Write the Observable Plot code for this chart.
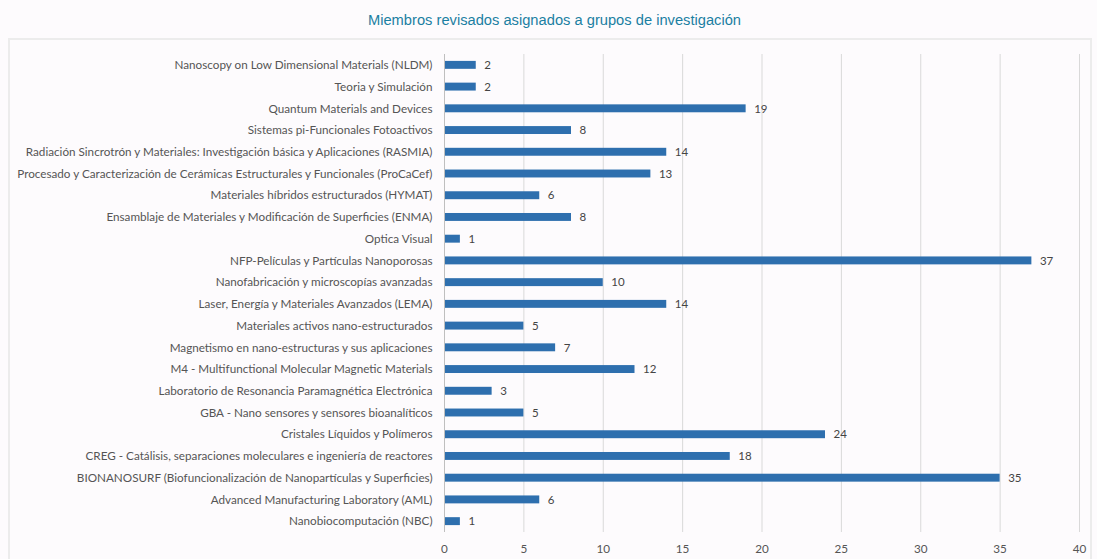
<!DOCTYPE html>
<html>
<head>
<meta charset="utf-8">
<script src="https://cdn.jsdelivr.net/npm/d3@7"></script>
<script src="https://cdn.jsdelivr.net/npm/@observablehq/plot@0.6"></script>
<style>
  html, body { margin: 0; padding: 0; background: #fdfbfd; width: 1097px; height: 559px; overflow: hidden; }
  #title { position: absolute; left: 6px; top: 0; width: 1097px; height: 38px; text-align: center; line-height: 40px;
    font-family: "Liberation Sans", Arial, sans-serif; font-size: 14.7px; color: #1b7fa2; }
  #frame { position: absolute; left: 8px; top: 38px; width: 1084px; height: 540px; border: 2px solid #ececec; box-sizing: border-box; }
  #chart { position: absolute; left: 0; top: 38px; }
</style>
</head>
<body>
<div id="title">Miembros revisados asignados a grupos de investigación</div>
<div id="frame"></div>
<div id="chart"></div>
<script>
const groups = [
  "Nanoscopy on Low Dimensional Materials (NLDM)",
  "Teoria y Simulación",
  "Quantum Materials and Devices",
  "Sistemas pi-Funcionales Fotoactivos",
  "Radiación Sincrotrón y Materiales: Investigación básica y Aplicaciones (RASMIA)",
  "Procesado y Caracterización de Cerámicas Estructurales y Funcionales (ProCaCef)",
  "Materiales híbridos estructurados (HYMAT)",
  "Ensamblaje de Materiales y Modificación de Superficies (ENMA)",
  "Optica Visual",
  "NFP-Películas y Partículas Nanoporosas",
  "Nanofabricación y microscopías avanzadas",
  "Laser, Energía y Materiales Avanzados (LEMA)",
  "Materiales activos nano-estructurados",
  "Magnetismo en nano-estructuras y sus aplicaciones",
  "M4 - Multifunctional Molecular Magnetic Materials",
  "Laboratorio de Resonancia Paramagnética Electrónica",
  "GBA - Nano sensores y sensores bioanalíticos",
  "Cristales Líquidos y Polímeros",
  "CREG - Catálisis, separaciones moleculares e ingeniería de reactores",
  "BIONANOSURF (Biofuncionalización de Nanopartículas y Superficies)",
  "Advanced Manufacturing Laboratory (AML)",
  "Nanobiocomputación (NBC)"
];
const members = [2, 2, 19, 8, 14, 13, 6, 8, 1, 37, 10, 14, 5, 7, 12, 3, 5, 24, 18, 35, 6, 1];
const xTicks = [0, 5, 10, 15, 20, 25, 30, 35, 40];

const data = groups.map((g, i) => ({group: g, value: members[i]}));
const font = "Lato, 'Liberation Sans', sans-serif";

const chart = Plot.plot({
  width: 1097,
  height: 521,
  marginLeft: 444,
  marginRight: 18,
  marginTop: 16,
  marginBottom: 27,
  style: {fontFamily: font, fontSize: "11.7px", color: "#555", background: "transparent"},
  x: {domain: [0, 40], ticks: xTicks, tickSize: 0, tickPadding: 12, label: null},
  y: {domain: groups, padding: 0, round: false, tickSize: 0, tickPadding: 12, label: null},
  marks: [
    Plot.gridX(xTicks, {stroke: "#d9d9d9", strokeOpacity: 1}),
    Plot.barX(data, {x: "value", y: "group", fill: "#2e6fae", insetTop: 6.9, insetBottom: 6.9}),
    Plot.ruleX([0], {stroke: "#bfbfbf"}),
    Plot.text(data, {x: "value", y: "group", text: d => String(d.value), textAnchor: "start", dx: 8, fill: "#444", fontSize: 11.5})
  ]
});
document.getElementById("chart").appendChild(chart);
</script>
</body>
</html>
